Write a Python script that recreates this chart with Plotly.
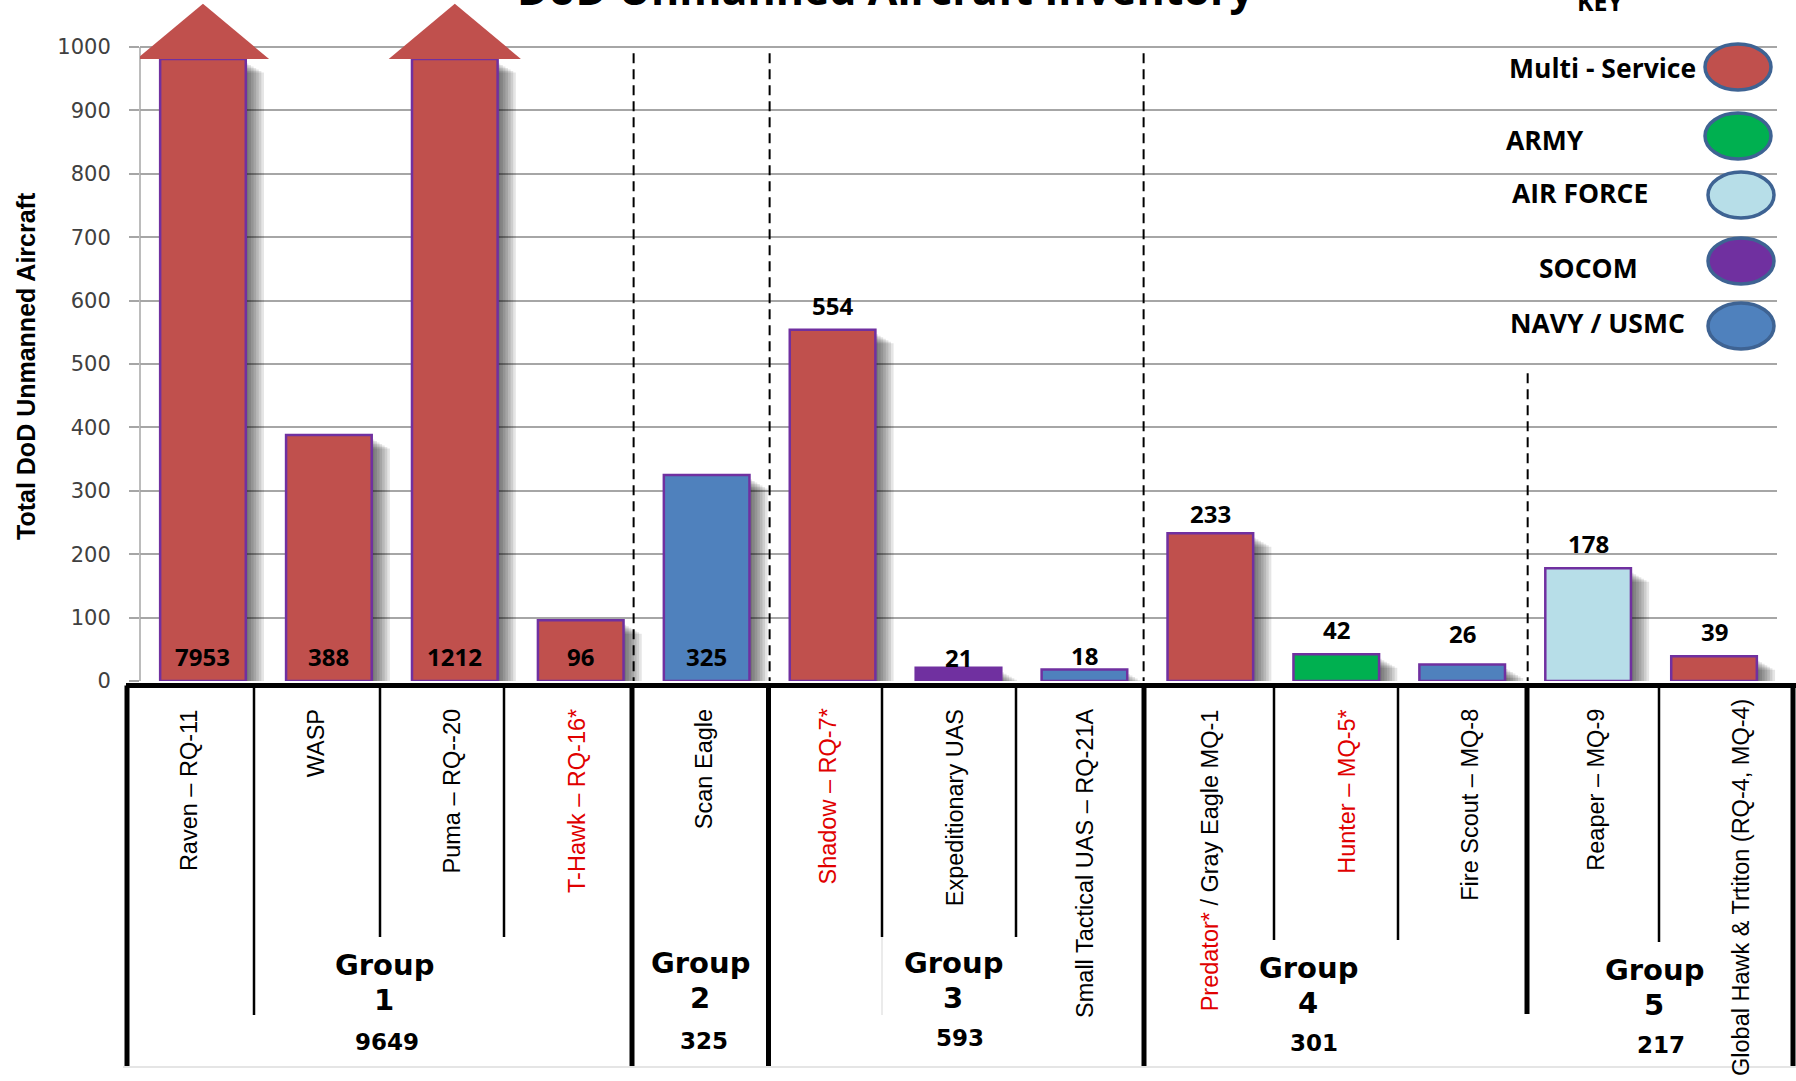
import plotly.graph_objects as go

# ---------------- data ----------------
categories = [
    "Raven – RQ-11", "WASP", "Puma – RQ--20", "T-Hawk – RQ-16*", "Scan Eagle",
    "Shadow – RQ-7*", "Expeditionary UAS", "Small Tactical UAS – RQ-21A",
    "Predator* / Gray Eagle MQ-1", "Hunter – MQ-5*", "Fire Scout – MQ-8",
    "Reaper – MQ-9", "Global Hawk & Trtiton (RQ-4, MQ-4)",
]
inventory = [7953, 388, 1212, 96, 325, 554, 21, 18, 233, 42, 26, 178, 39]
service = [
    "Multi - Service", "Multi - Service", "Multi - Service", "Multi - Service", "NAVY / USMC",
    "Multi - Service", "SOCOM", "NAVY / USMC", "Multi - Service", "ARMY", "NAVY / USMC",
    "AIR FORCE", "Multi - Service",
]
group_of = [1, 1, 1, 1, 2, 3, 3, 3, 4, 4, 4, 5, 5]
groups = [1, 2, 3, 4, 5]
key_labels = ["Multi - Service", "ARMY", "AIR FORCE", "SOCOM", "NAVY / USMC"]
y_ticks = [0, 100, 200, 300, 400, 500, 600, 700, 800, 900, 1000]
title_text = "DoD Unmanned Aircraft Inventory"
y_title = "Total DoD Unmanned Aircraft"

# ---------------- styles ----------------
service_colors = {
    "Multi - Service": "#C0504D",
    "ARMY": "#00B050",
    "AIR FORCE": "#B7DEE8",
    "SOCOM": "#7030A0",
    "NAVY / USMC": "#4F81BD",
}
RED_TXT = "#E00000"
W, H = 1796, 1081
ML, MR, MT, MB = 140, 19, 0, 400
PW, PH = W - ML - MR, H - MT - MB
YMAX = 1074
N = len(categories)
PX_CAT = PW / N
PX_VAL = PH / YMAX
BAR_W = 0.68
CAP = 981          # where truncated bars are cut
TIP = 1068         # arrow tip
HEAD_HALF = 0.525


def px_x(p):
    return (p - ML) / PW


def px_y(p):
    return (MT + PH - p) / PH


idx = list(range(N))
display = [min(v, CAP) for v in inventory]
colors = [service_colors[s] for s in service]

fig = go.Figure()

# soft shadows
for k in range(1, 8):
    dx = k * 2.6 / PX_CAT
    drop = (3 + k * 1.5) / PX_VAL
    fig.add_bar(
        x=idx, y=[max(v - drop, 0) for v in display], width=BAR_W,
        offset=-BAR_W / 2 + dx,
        marker=dict(color="rgba(0,0,0,0.1)", line=dict(width=0)),
        hoverinfo="skip", showlegend=False,
    )

fig.add_bar(
    x=idx, y=display, width=BAR_W, offset=-BAR_W / 2,
    marker=dict(color=colors, line=dict(color="#7030A0", width=2.5)),
    showlegend=False, hovertext=categories,
)

# arrow heads for truncated bars
for i, v in enumerate(inventory):
    if v > CAP:
        fig.add_scatter(
            x=[i - HEAD_HALF, i, i + HEAD_HALF, i - HEAD_HALF],
            y=[CAP, TIP, CAP, CAP], mode="lines", fill="toself",
            fillcolor=colors[i], line=dict(width=0, color=colors[i]),
            hoverinfo="skip", showlegend=False,
        )

annotations = []
shapes = []

# value labels
inside_groups = [1, 2]
label_dy = [0, 0, 0, 0, 0, 0, -14, -10, -5, 0, 7, 0, 0]
for i, v in enumerate(inventory):
    if group_of[i] in inside_groups:
        annotations.append(dict(x=i, y=0, xref="x", yref="y", text=str(v), showarrow=False,
                                xanchor="center", yanchor="bottom", yshift=6.5,
                                font=dict(family="Open Sans", size=24, color="black", weight="bold")))
    else:
        annotations.append(dict(x=i, y=display[i], xref="x", yref="y", text=str(v), showarrow=False,
                                xanchor="center", yanchor="bottom", yshift=6 + label_dy[i],
                                font=dict(family="Open Sans", size=24, color="black", weight="bold")))

# category labels (rotated, in table)
label_nudge = [-0.11, -0.1, -0.03, -0.03, -0.02, -0.04, -0.03, 0.0, 0.0, 0.08, 0.06, 0.06, 0.21]
label_top = [707] * 12 + [697]
for i, c in enumerate(categories):
    parts = c.split(" / ")
    txt = " / ".join(f'<span style="color:{RED_TXT}">{p}</span>' if "*" in p else p for p in parts)
    annotations.append(dict(x=i + label_nudge[i], y=px_y(label_top[i]), xref="x", yref="paper",
                            text=txt, textangle=-90, showarrow=False, xanchor="center", yanchor="top",
                            font=dict(family="Liberation Sans", size=23.5, color="black")))

# group labels
group_x = [384, 700, 953, 1308, 1654]
group_y = [965, 963, 963, 968, 970]
total_x = [387, 704, 960, 1314, 1661]
total_y = [1042, 1041, 1038, 1043, 1045]
for gi, g in enumerate(groups):
    tot = sum(v for v, gg in zip(inventory, group_of) if gg == g)
    annotations.append(dict(x=px_x(group_x[gi]), y=px_y(group_y[gi]), xref="paper", yref="paper",
                            text="Group", showarrow=False, xanchor="center", yanchor="middle",
                            font=dict(family="DejaVu Sans", size=29, color="black", weight="bold")))
    annotations.append(dict(x=px_x(group_x[gi]), y=px_y(group_y[gi] + 35), xref="paper", yref="paper",
                            text=str(g), showarrow=False, xanchor="center", yanchor="middle",
                            font=dict(family="DejaVu Sans", size=29, color="black", weight="bold")))
    annotations.append(dict(x=px_x(total_x[gi]), y=px_y(total_y[gi]), xref="paper", yref="paper",
                            text=str(tot), showarrow=False, xanchor="center", yanchor="middle",
                            font=dict(family="DejaVu Sans", size=23, color="black", weight="bold")))

# title and axis title
annotations.append(dict(x=px_x(886), y=px_y(20), xref="paper", yref="paper", text=title_text,
                        showarrow=False, xanchor="center", yanchor="bottom",
                        font=dict(family="Open Sans", size=43, color="black", weight="bold")))
annotations.append(dict(x=px_x(26), y=px_y(366), xref="paper", yref="paper", text=y_title,
                        showarrow=False, textangle=-90, xanchor="center", yanchor="middle",
                        font=dict(family="Liberation Sans Narrow, Liberation Sans", size=25,
                                  color="black", weight="bold")))

# key
annotations.append(dict(x=px_x(1600), y=px_y(20), xref="paper", yref="paper", text="KEY",
                        showarrow=False, xanchor="center", yanchor="bottom",
                        font=dict(family="Open Sans", size=25, color="black", weight="bold")))
key_text_x = [1602, 1545, 1580, 1588, 1597]
key_text_y = [68, 140, 193, 268, 323]
key_ell = [(1738, 67), (1738, 136), (1741, 195), (1741, 261), (1741, 326)]
for k, lab in enumerate(key_labels):
    annotations.append(dict(x=px_x(key_text_x[k]), y=px_y(key_text_y[k]), xref="paper", yref="paper",
                            text=lab, showarrow=False, xanchor="center", yanchor="middle",
                            font=dict(family="Open Sans", size=26.5, color="black", weight="bold")))
    cx, cy = key_ell[k]
    shapes.append(dict(type="circle", xref="paper", yref="paper",
                       x0=px_x(cx - 33), x1=px_x(cx + 33), y0=px_y(cy + 23), y1=px_y(cy - 23),
                       fillcolor=service_colors[lab], line=dict(color="#3E6393", width=3.5),
                       layer="above"))

# y axis line (0..1000 only)
shapes.append(dict(type="line", xref="paper", yref="y", x0=0, x1=0, y0=0, y1=1000,
                   line=dict(color="#A6A6A6", width=1.5), layer="below"))

# dashed group separators (category units) and their tops (value units)
dash_x = [3.42, 4.5, 7.47, 10.52]
dash_top = [997, 992, 995, 492]
for xx, tt in zip(dash_x, dash_top):
    shapes.append(dict(type="line", xref="x", yref="y", x0=xx, x1=xx, y0=-10, y1=tt,
                       line=dict(color="black", width=2, dash="10px,6px"), layer="above"))

# table (pixel geometry)
TOP_Y = 685.5
shapes.append(dict(type="line", xref="paper", yref="paper", x0=px_x(126), x1=px_x(1796),
                   y0=px_y(TOP_Y), y1=px_y(TOP_Y), line=dict(color="black", width=5)))
thick = [(127, 1066), (632, 1066), (768.5, 1066), (1144, 1066), (1527, 1014), (1793, 1066)]
thin = [(254, 1015), (380, 937), (504, 937), (882, 937), (1016, 937), (1274, 940), (1398, 940), (1659, 942)]
for xp, yb in thick:
    shapes.append(dict(type="line", xref="paper", yref="paper", x0=px_x(xp), x1=px_x(xp),
                       y0=px_y(TOP_Y), y1=px_y(yb), line=dict(color="black", width=5)))
for xp, yb in thin:
    shapes.append(dict(type="line", xref="paper", yref="paper", x0=px_x(xp), x1=px_x(xp),
                       y0=px_y(TOP_Y), y1=px_y(yb), line=dict(color="black", width=2.5)))
shapes.append(dict(type="line", xref="paper", yref="paper", x0=px_x(882), x1=px_x(882),
                   y0=px_y(937), y1=px_y(1015), line=dict(color="#E4E4E4", width=1.5)))
shapes.append(dict(type="line", xref="paper", yref="paper", x0=px_x(123), x1=px_x(1796),
                   y0=px_y(1067), y1=px_y(1067), line=dict(color="#DDDDDD", width=1.5)))

fig.update_layout(
    width=W, height=H, autosize=False,
    margin=dict(l=ML, r=MR, t=MT, b=MB, pad=0),
    paper_bgcolor="white", plot_bgcolor="white",
    barmode="overlay", showlegend=False,
    annotations=annotations, shapes=shapes,
    xaxis=dict(range=[-0.5, N - 0.5], showticklabels=False, showgrid=False, zeroline=False,
               showline=False, ticks=""),
    yaxis=dict(range=[0, YMAX], tickvals=y_ticks, ticktext=[str(t) for t in y_ticks],
               showgrid=True, gridcolor="#A6A6A6", gridwidth=1.5, zeroline=False, showline=False,
               ticks="outside", ticklen=10, tickcolor="#A6A6A6", tickwidth=1.5,
               ticklabelstandoff=14,
               tickfont=dict(family="DejaVu Sans", size=21, color="#404040")),
)

fig.write_html("out.html")
